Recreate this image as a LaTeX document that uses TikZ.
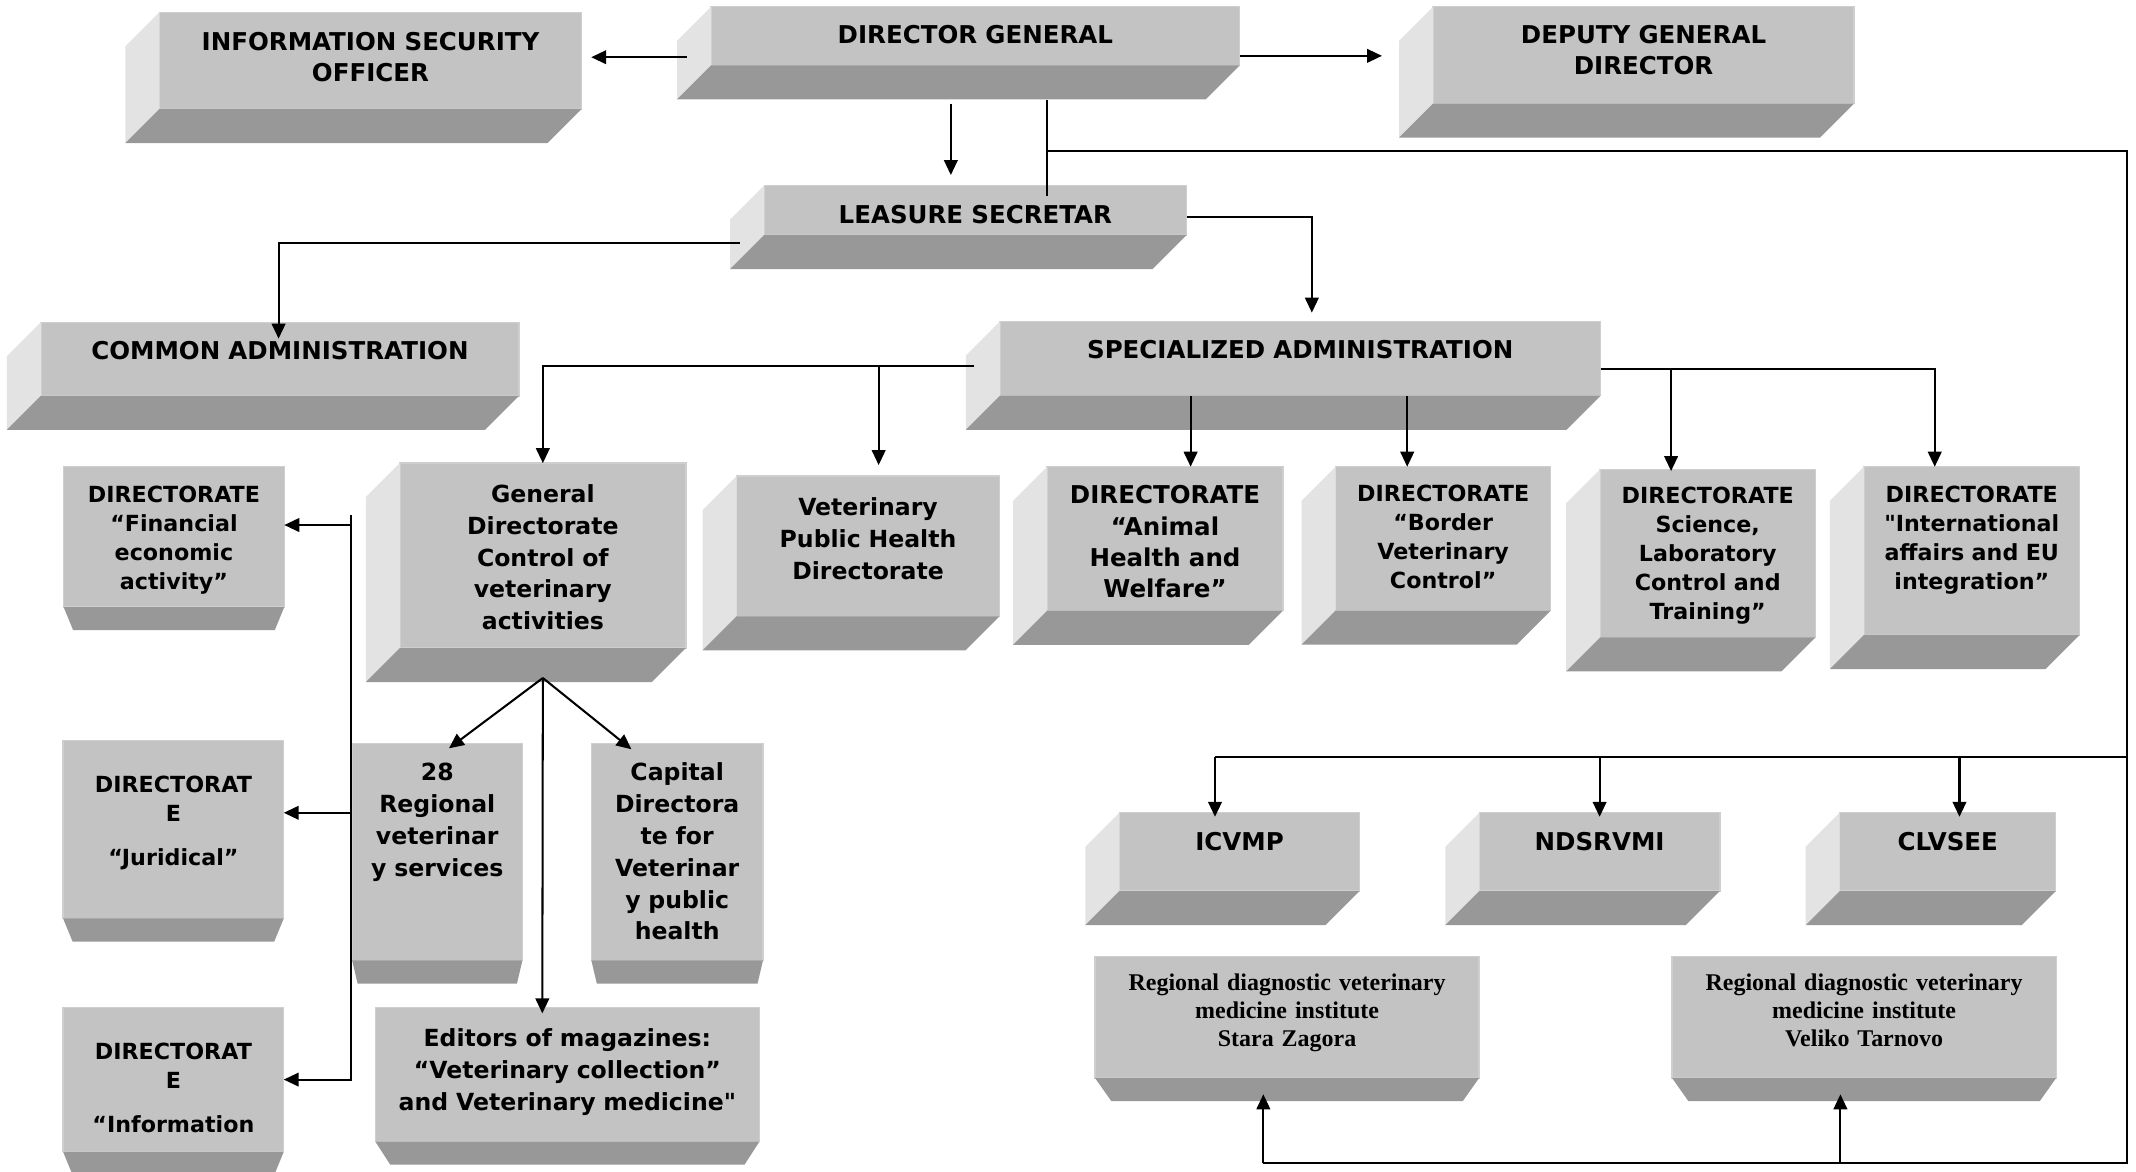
\documentclass[tikz,border=0pt]{standalone}
\usepackage{fontspec}
\setmainfont{DejaVu Sans}[Ligatures=TeXOff]
\newfontfamily\timesfont{Liberation Serif}
\usetikzlibrary{arrows.meta}
\definecolor{facegray}{RGB}{195,195,195}
\definecolor{sidegray}{RGB}{227,227,227}
\definecolor{basegray}{RGB}{152,152,152}
\definecolor{edgegray}{RGB}{207,207,207}

\begin{document}
\begin{tikzpicture}[x=1pt, y=-1pt,
    face/.style={fill=facegray, draw=edgegray, line width=1pt, inner sep=0pt, outer sep=0pt, align=center, anchor=north west},
    bigtext/.style={font=\bfseries\fontsize{18}{23}\selectfont},
    midtext/.style={font=\bfseries\fontsize{17.3}{23.4}\selectfont},
    smalltext/.style={font=\bfseries\fontsize{16.3}{21.3}\selectfont},
    seriftext/.style={font=\timesfont\bfseries\fontsize{17.6}{20.5}\selectfont},
    wire/.style={line width=1.5pt},
    arr/.style={wire, -{Triangle[length=11pt,width=10pt]}}]
\useasboundingbox (0,0) rectangle (1568,860);

            % top rows
            \node[face, bigtext, text width=310pt, text height=28pt, text depth=43pt] (iso) at (117,9) {INFORMATION SECURITY\\OFFICER};
            \node[face, bigtext, text width=388pt, text height=27pt, text depth=16pt] (dg) at (522,5) {DIRECTOR GENERAL};
            \node[face, bigtext, text width=309pt, text height=27pt, text depth=44pt] (dgd) at (1052,5) {DEPUTY GENERAL\\DIRECTOR};
            \node[face, bigtext, text width=310pt, text height=28pt, text depth=8.5pt] (ls) at (561,136) {LEASURE SECRETAR};
            \node[face, bigtext, text width=351pt, text height=27pt, text depth=27pt] (ca) at (30,236.6) {COMMON ADMINISTRATION};
            \node[face, bigtext, text width=441pt, text height=27.5pt, text depth=27pt] (sa) at (734,236) {SPECIALIZED ADMINISTRATION};

            % directorates
            \node[face, smalltext, text width=162pt, text height=26pt, text depth=77pt] (fea) at (46.7,342.6) {DIRECTORATE\\“Financial\\economic\\activity”};
            \node[face, midtext, text width=210pt, text height=28.7pt, text depth=107pt] (gdc) at (293.5,340) {General\\Directorate\\Control of\\veterinary\\activities};
            \node[face, midtext, text width=193pt, text height=29pt, text depth=74pt] (vph) at (540.7,349.4) {Veterinary\\Public Health\\Directorate};
            \node[face, bigtext, text width=173pt, text height=27.3pt, text depth=78.4pt] (ahw) at (768.7,342.6) {DIRECTORATE\\“Animal\\Health and\\Welfare”};
            \node[face, smalltext, text width=158pt, text height=25.6pt, text depth=80pt] (bvc) at (980.4,342.6) {DIRECTORATE\\“Border\\Veterinary\\Control”};
            \node[face, smalltext, text width=158pt, text height=25.4pt, text depth=98pt] (slc) at (1174.6,344.5) {DIRECTORATE\\Science,\\Laboratory\\Control and\\Training”};
            \node[face, smalltext, text width=158.5pt, text height=26pt, text depth=97.5pt] (iai) at (1368.2,342.6) {DIRECTORATE\\"International\\affairs and EU\\integration”};

            % lower left
            \node[face, smalltext, text width=162pt, text height=38pt, text depth=92.5pt] (jur) at (46.3,543.7) {DIRECTORAT\\E\\[11pt]“Juridical”};
            \node[face, smalltext, text width=162pt, text height=38pt, text depth=68pt] (inf) at (46.3,739.5) {DIRECTORAT\\E\\[11pt]“Information};
            \node[face, midtext, text width=125pt, text height=27.3pt, text depth=132pt] (rvs) at (258.5,545.7) {28\\Regional\\veterinar\\y services};
            \node[face, midtext, text width=126pt, text height=27.3pt, text depth=132pt] (cap) at (434.1,545.7) {Capital\\Directora\\te for\\Veterinar\\y public\\health};
            \node[face, midtext, text width=282pt, text height=29pt, text depth=69.5pt] (edi) at (275.5,739.5) {Editors of magazines:\\“Veterinary collection”\\and Veterinary medicine"};

            % lower right
            \node[face, bigtext, text width=176.4pt, text height=28pt, text depth=29.5pt] (icvmp) at (821.7,596.6) {ICVMP};
            \node[face, bigtext, text width=176.5pt, text height=28pt, text depth=29.5pt] (ndsrvmi) at (1086,596.6) {NDSRVMI};
            \node[face, bigtext, text width=158.6pt, text height=28pt, text depth=29.5pt] (clvsee) at (1350.5,596.6) {CLVSEE};
            \node[face, seriftext, text width=282pt, text height=25pt, text depth=64pt] (rsz) at (803.8,702.3) {Regional diagnostic veterinary\\medicine institute\\Stara Zagora};
            \node[face, seriftext, text width=282pt, text height=25pt, text depth=64pt] (rvt) at (1227.4,702.3) {Regional diagnostic veterinary\\medicine institute\\Veliko Tarnovo};

            % depth of the boxes
            \foreach \n in {iso,dg,dgd,ls,ca,sa,gdc,vph,ahw,bvc,slc,iai,icvmp,ndsrvmi,clvsee} {
                \fill[sidegray] (\n.north west) -- ++(-25,25) -- ([shift={(-25,25)}]\n.south west) -- (\n.south west) -- cycle;
                \fill[basegray] (\n.south west) -- (\n.south east) -- ++(-25,25) -- ([shift={(-25,25)}]\n.south west) -- cycle;
            }
            \foreach \n/\i in {fea/7,jur/7,inf/7,rvs/4,cap/4,edi/11,rsz/12,rvt/12}
                \fill[basegray] (\n.south west) -- (\n.south east) -- ++(-\i,17) -- ([shift={(\i,17)}]\n.south west) -- cycle;

            \coordinate (ne) at (1561.5,110.8);
            \coordinate (me) at (1561.5,555.5);
            \coordinate (se) at (1561.5,854);
            \coordinate (rail) at (257.5,378);
            \coordinate (apex) at ([yshift=-22pt]gdc.south);

            \draw[arr] ([shift={(-18,-6)}]dg.south west) -- ([shift={(7,-2.5)}]iso.east);
            \draw[arr] ([shift={(0,-7)}]dg.south east) -- ([shift={(-37.5,0.5)}]dgd.west);
            \draw[arr] ([shift={(-18,28)}]dg.south) -- ([shift={(-18,-7.5)}]ls.north);
            \draw[wire] ([shift={(52.7,25.4)}]dg.south) -- ([shift={(52.7,8)}]ls.north);
            \draw[wire] ([shift={(52.7,62.8)}]dg.south) -- (ne) -- (se) -- ([xshift=-17.4pt]rsz.south |- se);
            \foreach \n in {rsz,rvt}
                \draw[arr] ([xshift=-17.4pt]\n.south |- se) -- ([shift={(-17.4,12)}]\n.south);
            \draw[wire] (me) -- ([xshift=-18pt]icvmp.north |- me);
            \foreach \n/\d in {icvmp/-18,ndsrvmi/0,clvsee/8.6}
                \draw[arr] ([xshift=\d pt]\n.north |- me) -- ([shift={(\d,3)}]\n.north);

            \draw[arr] ([shift={(-18,6)}]ls.south west) -| ([shift={(-1,12)}]ca.north);
            \draw[arr] ([shift={(0,5)}]ls.east) -| ([shift={(8.5,-6.5)}]sa.north);

            \draw[arr] ([shift={(-19,5.7)}]sa.west) coordinate (sal) -| (gdc.north);
            \draw[arr] ([xshift=7.8pt]vph.north |- sal) -- ([shift={(7.8,-8)}]vph.north);
            \draw[arr] ([shift={(0,7.6)}]sa.east) coordinate (sar) -| ([xshift=-27.2pt]iai.north);
            \draw[arr] ([xshift=-26.9pt]slc.north |- sar) -- ([shift={(-26.9,1.3)}]slc.north);
            \draw[arr] ([xshift=18.8pt]ahw.north |- sa.south) -- ([xshift=18.8pt]ahw.north);
            \draw[arr] ([xshift=-26.4pt]bvc.north |- sa.south) -- ([xshift=-26.4pt]bvc.north);

            \draw[arr] (apex) -- ([shift={(8.6,3.6)}]rvs.north);
            \draw[arr] (apex) -- ([shift={(-33.6,4.3)}]cap.north);
            \draw[arr] (apex) -- ([shift={(-18.4,4.4)}]edi.north);

            \draw[arr] (rail) |- (inf.east);
            \draw[arr] ([yshift=8.7pt]fea.east -| rail) -- ([yshift=8.7pt]fea.east);
            \draw[arr] ([yshift=12.3pt]jur.east -| rail) -- ([yshift=12.3pt]jur.east);
        \end{tikzpicture}
\end{document}
